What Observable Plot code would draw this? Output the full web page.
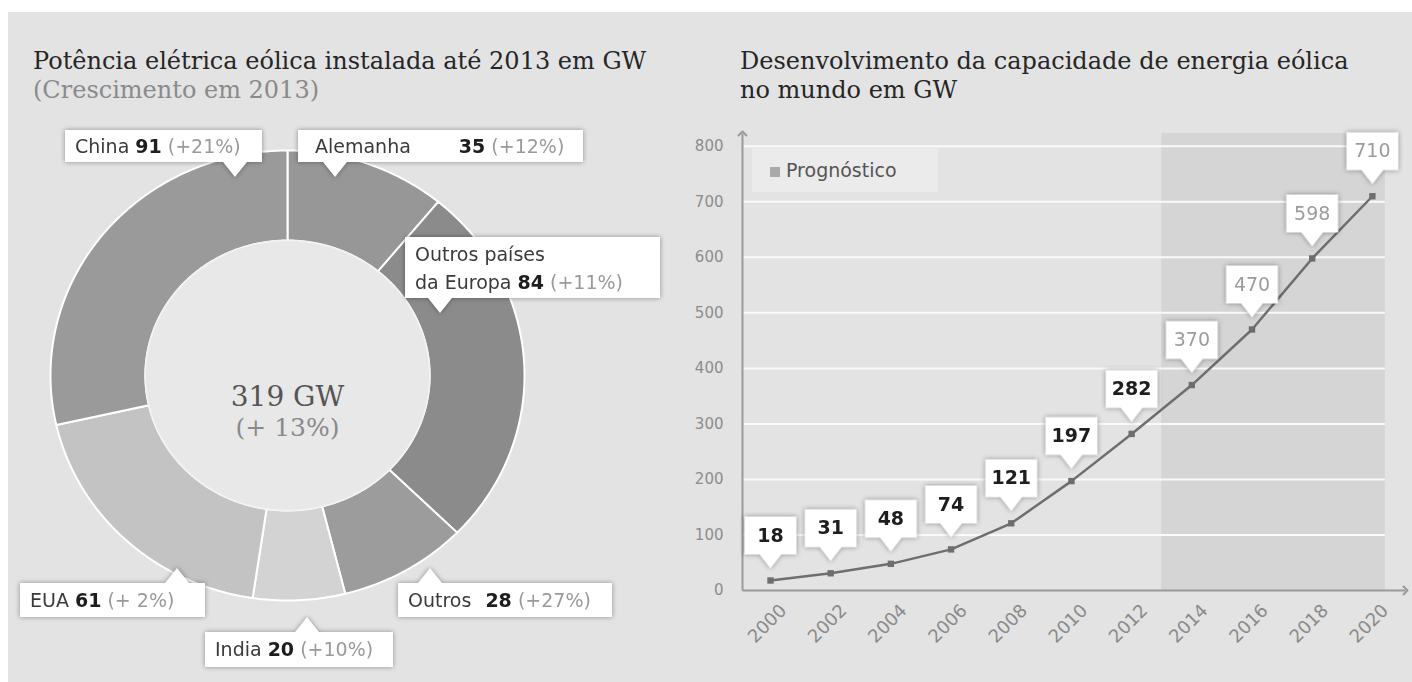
<!DOCTYPE html>
<html><head><meta charset="utf-8">
<script src="https://cdn.jsdelivr.net/npm/d3@7"></script>
<script src="https://cdn.jsdelivr.net/npm/@observablehq/plot@0.6"></script>
<style>
html,body{margin:0;padding:0;background:#fff;width:1412px;height:682px;overflow:hidden;position:relative;}
#panel{position:absolute;left:8px;top:12px;width:1404px;height:670px;background:#e3e3e3;}
.abs{position:absolute;}
.title{position:absolute;font-family:"DejaVu Serif",serif;font-size:24px;color:#262626;line-height:29px;white-space:nowrap;}
.title div{white-space:nowrap;}
.sub{color:#8a8a8a;}
.wrap{position:absolute;filter:drop-shadow(0 0 2.5px rgba(0,0,0,.38));}
.box{position:absolute;left:0;top:0;background:#fff;font-family:"DejaVu Sans",sans-serif;font-size:19px;color:#3a3a3a;box-sizing:border-box;white-space:nowrap;}
.box div{white-space:nowrap;}
.box b{color:#1e1e1e;}
.box .g{color:#9a9a9a;}
.ptr{position:absolute;width:0;height:0;border-left:12px solid transparent;border-right:12px solid transparent;}
svg g[aria-label="dot"][fill="white"]{filter:drop-shadow(0 0 2.5px rgba(0,0,0,.38));}
#legend{position:absolute;left:752px;top:148px;width:186px;height:44px;background:#ebebeb;font-family:"DejaVu Sans",sans-serif;font-size:19px;color:#555;line-height:44px;}
#legend span{display:inline-block;width:10px;height:10px;background:#a9a9a9;margin:0 6px 0 18px;vertical-align:0px;}
</style>
</head><body>
<div id="panel"></div>
<div id="left" class="abs" style="left:0;top:0;width:690px;height:682px;"></div>
<div id="right" class="abs" style="left:690px;top:110px;width:722px;height:572px;"></div>
<div class="title" style="left:33px;top:47px;"><div>Potência elétrica eólica instalada até 2013 em GW</div><div class="sub">(Crescimento em 2013)</div></div>
<div class="title" style="left:740px;top:47px;"><div>Desenvolvimento da capacidade de energia eólica</div><div>no mundo em GW</div></div>
<div id="labels"></div>
<div id="legend"><span></span>Prognóstico</div>
<script>
// ---------- Data: installed wind power up to 2013 (GW), clockwise from top
const regions = ["Alemanha", "Outros países da Europa", "Outros", "India", "EUA", "China"];
const regionLabelLines = [["Alemanha"], ["Outros países", "da Europa"], ["Outros"], ["India"], ["EUA"], ["China"]];
const capacity2013 = [35, 84, 28, 20, 61, 91];
const growth2013 = ["+12%", "+11%", "+27%", "+10%", "+ 2%", "+21%"];
const totalText = "319 GW";
const totalGrowth = "(+ 13%)";

// ---------- Data: world wind capacity (GW)
const years = [2000, 2002, 2004, 2006, 2008, 2010, 2012, 2014, 2016, 2018, 2020];
const worldCapacity = [18, 31, 48, 74, 121, 197, 282, 370, 470, 598, 710];
const forecastStart = 2013;
const yTicks = [0, 100, 200, 300, 400, 500, 600, 700, 800];

// ---------- Styles
const sliceColors = ["#979797", "#8b8b8b", "#9c9c9c", "#d3d3d3", "#c3c3c3", "#9a9a9a"];
const innerRatio = 0.6;

// ---------- Donut geometry from the values
const total = d3.sum(capacity2013);
let acc = 0;
const slicePts = [];
regions.forEach((name, i) => {
  const a0 = acc / total * 2 * Math.PI;
  acc += capacity2013[i];
  const a1 = acc / total * 2 * Math.PI;
  const n = Math.max(2, Math.ceil((a1 - a0) / 0.01));
  for (let k = 0; k <= n; k++) { const a = a0 + (a1 - a0) * k / n; slicePts.push({name, x: Math.sin(a), y: Math.cos(a)}); }
  for (let k = n; k >= 0; k--) { const a = a0 + (a1 - a0) * k / n; slicePts.push({name, x: innerRatio * Math.sin(a), y: innerRatio * Math.cos(a)}); }
});
const holePts = d3.range(0, 361, 1).map(d => ({x: innerRatio * Math.sin(d * Math.PI / 180), y: innerRatio * Math.cos(d * Math.PI / 180)}));

const donut = Plot.plot({
  width: 690, height: 682, margin: 0,
  x: {domain: [-1, 1], range: [50, 524], axis: null},
  y: {domain: [-1, 1], range: [600, 150], axis: null},
  color: {domain: regions, range: sliceColors},
  style: {background: "transparent", overflow: "visible"},
  marks: [
    Plot.line(slicePts, {x: "x", y: "y", z: "name", fill: "name", stroke: "white", strokeWidth: 2, curve: "linear-closed"}),
    Plot.line(holePts, {x: "x", y: "y", fill: "#e8e8e8", stroke: "#f2f2f2", strokeWidth: 1.5, curve: "linear-closed"}),
    Plot.text([totalText], {x: 0, y: 0, text: d => d, dy: 22, fontFamily: "DejaVu Serif", fontSize: 28, fill: "#555"}),
    Plot.text([totalGrowth], {x: 0, y: 0, text: d => d, dy: 52, fontFamily: "DejaVu Serif", fontSize: 25, fill: "#8a8a8a"})
  ]
});
document.getElementById("left").appendChild(donut);

// ---------- Donut callout labels (layout only)
const labelLayout = {
  "Alemanha": {left: 298, top: 130, w: 285, h: 32, ptr: 335, dir: "down", pad: 17, gap: 48},
  "Outros países da Europa": {left: 405, top: 237, w: 255, h: 61, ptr: 440, dir: "down", pad: 10, gap: 6},
  "Outros": {left: 398, top: 583, w: 214, h: 34, ptr: 430, dir: "up", pad: 10, gap: 14},
  "India": {left: 205, top: 632, w: 188, h: 35, ptr: 307, dir: "up", pad: 10, gap: 6},
  "EUA": {left: 20, top: 583, w: 185, h: 34, ptr: 177, dir: "up", pad: 10, gap: 6},
  "China": {left: 65, top: 130, w: 197, h: 32, ptr: 235, dir: "down", pad: 10, gap: 6}
};
const labelsDiv = document.getElementById("labels");
regions.forEach((name, i) => {
  const L = labelLayout[name];
  const lines = regionLabelLines[i];
  const wrap = document.createElement("div");
  wrap.className = "wrap";
  wrap.style.left = L.left + "px"; wrap.style.top = L.top + "px";
  wrap.style.width = L.w + "px"; wrap.style.height = L.h + "px";
  const box = document.createElement("div");
  box.className = "box";
  box.style.width = L.w + "px"; box.style.height = L.h + "px";
  box.style.padding = `${lines.length > 1 ? 3 : 0}px 4px 0 ${L.pad}px`;
  const lh = lines.length > 1 ? 28 : L.h;
  box.style.lineHeight = lh + "px";
  const html = lines.slice(0, -1).map(t => `<div>${t}</div>`).join("") +
    `<div><span>${lines[lines.length - 1]}</span><b style="margin-left:${L.gap}px">${capacity2013[i]}</b> <span class="g">(${growth2013[i]})</span></div>`;
  box.innerHTML = html;
  const ptr = document.createElement("div");
  ptr.className = "ptr";
  ptr.style.left = (L.ptr - L.left - 12) + "px";
  if (L.dir === "down") { ptr.style.top = L.h + "px"; ptr.style.borderTop = "15px solid #fff"; }
  else { ptr.style.top = "-15px"; ptr.style.borderBottom = "15px solid #fff"; }
  wrap.appendChild(box); wrap.appendChild(ptr);
  labelsDiv.appendChild(wrap);
});

// ---------- Line chart
const series = years.map((year, i) => ({year, value: worldCapacity[i], forecast: year > forecastStart}));
const xDomain = [1999.07, 2021.1];
const yDomain = [0, 823];
const shadeEnd = 2020.43;

const calloutSymbol = {
  draw(ctx) {
    const w = 26, tip = -12, ph = 14, pw = 11, h = 38;
    const bottom = tip - ph, top = bottom - h;
    ctx.moveTo(0, tip);
    ctx.lineTo(-pw, bottom);
    ctx.lineTo(-w, bottom);
    ctx.lineTo(-w, top);
    ctx.lineTo(w, top);
    ctx.lineTo(w, bottom);
    ctx.lineTo(pw, bottom);
    ctx.closePath();
  }
};

const line = Plot.plot({
  width: 722, height: 572,
  marginLeft: 52, marginRight: 7, marginTop: 23, marginBottom: 92,
  x: {domain: xDomain, axis: null},
  y: {domain: yDomain, ticks: yTicks, tickSize: 0, tickPadding: 19, label: null, tickFormat: d => String(d)},
  style: {background: "transparent", color: "#8c8c8c", fontFamily: "DejaVu Sans", fontSize: "15px", overflow: "visible"},
  marks: [
    Plot.rect([forecastStart], {x1: d => d, x2: shadeEnd, y1: yDomain[0], y2: yDomain[1], fill: "#d5d5d5"}),
    Plot.ruleY(yTicks.filter(d => d > 0), {x1: xDomain[0], x2: shadeEnd, stroke: "#fafafa", strokeWidth: 2}),
    Plot.link([0], {x1: xDomain[0], x2: xDomain[1], y1: d => d, y2: d => d, stroke: "#9a9a9a", strokeWidth: 2, markerEnd: "arrow"}),
    Plot.link([0], {x1: xDomain[0], x2: xDomain[0], y1: d => d, y2: yDomain[1], stroke: "#9a9a9a", strokeWidth: 2, markerEnd: "arrow"}),
    Plot.line(series, {x: "year", y: "value", stroke: "#6e6e6e", strokeWidth: 2.5}),
    Plot.dot(series, {x: "year", y: "value", symbol: "square", r: 3.6, fill: "#6e6e6e"}),
    Plot.dot(series, {x: "year", y: "value", symbol: calloutSymbol, r: 5, fill: "white"}),
    Plot.text(series, {filter: d => !d.forecast, x: "year", y: "value", text: d => String(d.value), dy: -45, fill: "#1e1e1e", fontWeight: "bold", fontSize: 19, fontFamily: "DejaVu Sans"}),
    Plot.text(series, {filter: d => d.forecast, x: "year", y: "value", text: d => String(d.value), dy: -45, fill: "#9c9c9c", fontSize: 19, fontFamily: "DejaVu Sans"}),
    Plot.text(years, {x: d => d, y: yDomain[0], text: d => String(d), rotate: -45, textAnchor: "end", dx: 13, dy: 17, fill: "#8a8a8a", fontSize: 18, fontFamily: "DejaVu Sans"})
  ]
});
document.getElementById("right").appendChild(line);
</script>
</body></html>
